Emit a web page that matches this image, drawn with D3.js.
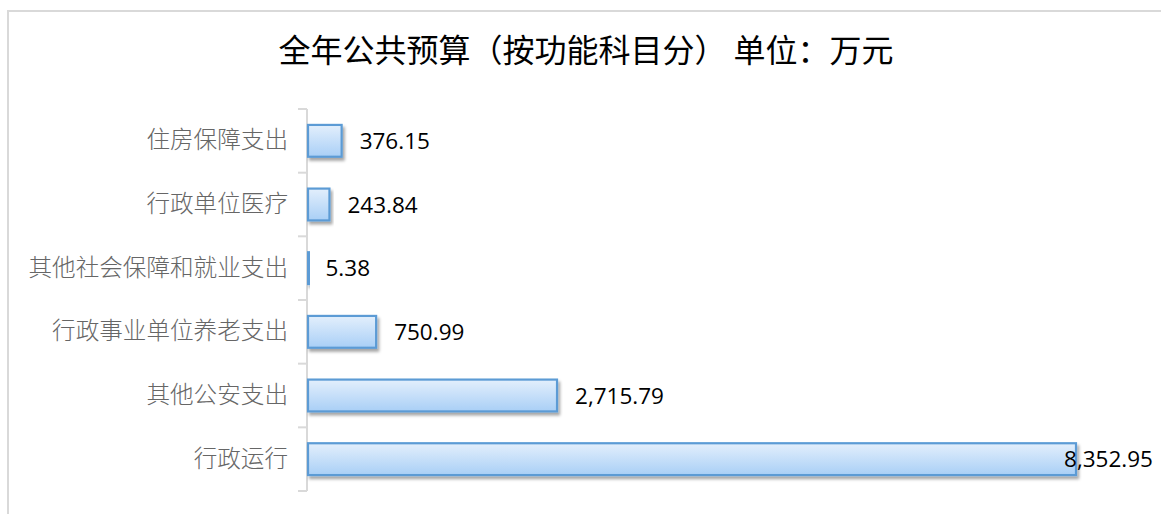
<!DOCTYPE html>
<html><head><meta charset="utf-8">
<script src="https://cdn.jsdelivr.net/npm/d3@7"></script>
<style>html,body{margin:0;padding:0;background:#fff;overflow:hidden}</style>
</head><body>
<script>
const title = "全年公共预算（按功能科目分） 单位：万元";
const categories = ["住房保障支出","行政单位医疗","其他社会保障和就业支出","行政事业单位养老支出","其他公安支出","行政运行"];
const values = [376.15, 243.84, 5.38, 750.99, 2715.79, 8352.95];

const W = 1161, H = 514;
const svg = d3.select("body").append("svg").attr("width", W).attr("height", H);
const defs = svg.append("defs");
const grad = defs.append("linearGradient").attr("id","barGrad").attr("x1",0).attr("y1",0).attr("x2",0).attr("y2",1);
grad.append("stop").attr("offset","0%").attr("stop-color","#e3effc");
grad.append("stop").attr("offset","100%").attr("stop-color","#a9cff6");
const f = defs.append("filter").attr("id","shadow").attr("x","-10%").attr("y","-30%").attr("width","130%").attr("height","180%");
f.append("feDropShadow").attr("dx",2).attr("dy",3).attr("stdDeviation",1.8).attr("flood-color","#000").attr("flood-opacity",0.35);

// outer border
svg.append("rect").attr("x",8).attr("y",11).attr("width",W+20).attr("height",H+20)
  .attr("fill","none").attr("stroke","#d9d9d9").attr("stroke-width",2);

svg.append("text").attr("x",586).attr("y",62).attr("text-anchor","middle")
  .attr("font-family","'Noto Sans CJK SC'").attr("font-weight",400).attr("font-size",32).attr("fill","#000")
  .text(title);

const x0 = 307;
const x = d3.scaleLinear().domain([0, 8352.95]).range([x0, 1076]);
const y = d3.scaleBand().domain(categories).range([109, 491]).paddingInner(0.5).paddingOuter(0.25);

// axis
const axis = d3.axisLeft(y).tickSize(0).tickPadding(19);
const gA = svg.append("g").attr("transform",`translate(${x0},0)`).call(axis);
gA.select(".domain").remove();
gA.selectAll("text").attr("font-family","'Noto Sans CJK SC'").attr("font-size",23.6).attr("fill","#666666").attr("font-weight",300);
// axis line & boundary ticks
svg.append("line").attr("x1",x0).attr("x2",x0).attr("y1",109).attr("y2",491).attr("stroke","#d9d9d9").attr("stroke-width",2);
const bounds = d3.range(categories.length+1).map(i => 109 + i*(382/categories.length));
svg.selectAll(".btick").data(bounds).join("line").attr("class","btick")
  .attr("x1",x0-9).attr("x2",x0).attr("y1",d=>d).attr("y2",d=>d).attr("stroke","#d9d9d9").attr("stroke-width",2);

// bars
svg.selectAll(".bar").data(categories).join("rect").attr("class","bar")
  .attr("x", x0+1)
  .attr("y", d => y(d))
  .attr("width", (d,i) => Math.max(1, x(values[i]) - x0 - 1))
  .attr("height", y.bandwidth())
  .attr("fill","url(#barGrad)").attr("stroke","#5b9bd5").attr("stroke-width",2.2)
  .attr("filter","url(#shadow)");

// value labels
const fmt = d3.format(",.2f");
const lbl = svg.selectAll(".val").data(categories).join("text").attr("class","val")
  .attr("x", (d,i) => x(values[i]) + 18)
  .attr("y", d => y(d) + y.bandwidth()/2 + 8)
  .attr("font-family","'Open Sans'").attr("font-size",22.5).attr("fill","#000")
  .text((d,i) => fmt(values[i]));
lbl.each(function(){
  const bb = this.getBBox();
  if (bb.x + bb.width > 1153) d3.select(this).attr("x", 1153 - bb.width);
});
</script>
</body></html>
